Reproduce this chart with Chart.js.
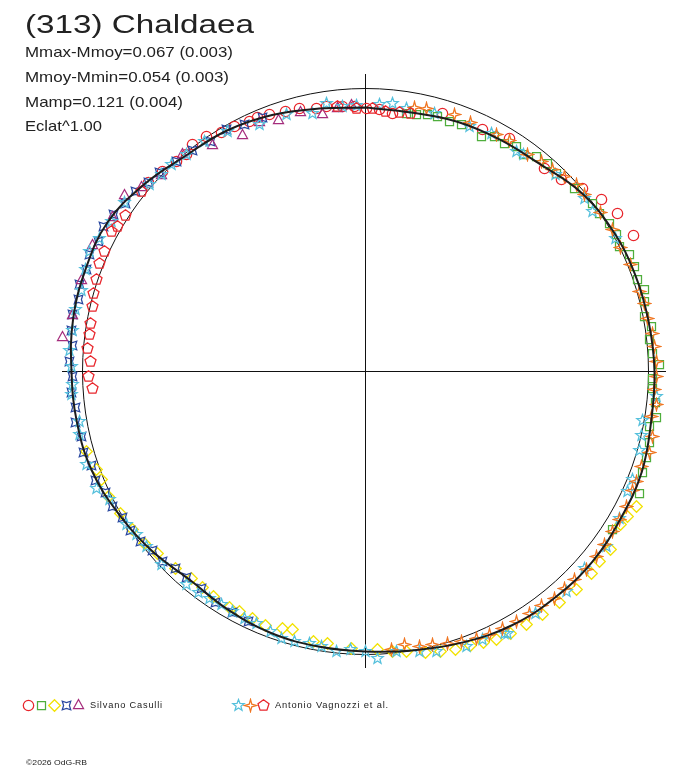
<!DOCTYPE html>
<html><head><meta charset="utf-8">
<script src="https://cdn.jsdelivr.net/npm/chart.js@4.4.1/dist/chart.umd.min.js"></script>
<style>
html,body{margin:0;padding:0;background:#fff;}
#wrap{position:relative;width:688px;height:768px;overflow:hidden;background:#fff;font-family:"Liberation Sans",Arial,sans-serif;color:#222;}
#c{position:absolute;left:0;top:0;}
.t{position:absolute;white-space:nowrap;transform-origin:0 0;line-height:1;}
.sym{position:absolute;}
</style></head><body>
<div id="wrap">
<canvas id="c" width="688" height="768"></canvas>
<div class="t" style="left:25px;top:11px;font-size:26px" data-w="229">(313) Chaldaea</div>
<div class="t" style="left:25px;top:44px;font-size:15px" data-w="208">Mmax-Mmoy=0.067 (0.003)</div>
<div class="t" style="left:25px;top:69px;font-size:15px" data-w="204">Mmoy-Mmin=0.054 (0.003)</div>
<div class="t" style="left:25px;top:94px;font-size:15px" data-w="158">Mamp=0.121 (0.004)</div>
<div class="t" style="left:25px;top:118px;font-size:15px" data-w="77">Eclat^1.00</div>
<div class="t" style="left:90px;top:701px;font-size:9px;letter-spacing:0.8px" data-w="73">Silvano Casulli</div>
<div class="t" style="left:275px;top:701px;font-size:9px;letter-spacing:0.8px" data-w="114">Antonio Vagnozzi et al.</div>
<div class="t" style="left:26px;top:759px;font-size:8px" data-w="61">©2026 OdG-RB</div>
</div>
<script>
// ---- data (angle in degrees clockwise from top, radius in plot units) ----
const REF_RADIUS = 283;
const fitAngle = [0,10,20,30,40,50,60,70,80,90,100,110,120,130,140,150,160,170,180,190,200,210,220,230,240,250,260,270,280,290,300,310,320,330,340,350];
const fitRadius = [264,263,266,268,271,280,284.5,286.5,287.5,289,290,294,294.5,296,295,293,288,283,280,279,278,275,272.5,279,285,291,293,294,297,298,298,290,281,278,273,267];

const casCircleAngle = [311,314.6,318,320.5,322.7,326,329,332,335,337,339.5,343,346,349.5,351.6,355,357.6,0.2,3,6,16.6,25.8,31.7,41.4,45.6,49.9,53.9,57.9,63];
const casCircleRadius = [288,285,283,281,285,283.7,279,278,275.6,276,274,272,271,267.5,268,266,265,263,262,259,269,269,274,270.6,274,284,292,297,300.5];

const casSquareAngle = [9,11.2,13.6,15.8,18.6,21.2,26.3,28.8,31.4,33.9,36,38.5,41.2,44,48.8,53.5,56,58.8,61.4,63.8,66,68.7,71.3,73.6,76,78.8,81,83.6,86.4,88.6,91.4,93.4,96,99,101,104,107,110,114,122.6];
const casSquareRadius = [261,262,264,265,264,265,262,268,267,271,268,274.7,276,275,278,282,282,285,286,283,288.8,288.8,287,290.8,287.6,284,289.5,285.8,287.6,294,287,287.5,292,294.5,289,293,294,295,300,293];

const casDiamondAngle = [116.5,119,121,126,129,131.8,135.9,140,144,147.5,151,154,156.5,159,162,165,168,171.7,174.5,177.5,183,188,191,195.8,198,201.5,204.6,207.7,210,214,217,220,224,228.8,232,235.9,240,244,247.8,250,254];
const casDiamondRadius = [303,300,297,303,301.5,303,303,302,300.6,300,299,298,296,294,292.5,290,287,283,281,278,277,274.6,275,268,270,273,271.6,271,272,272,271,270,274,276,280,281.5,283,286,285,286,290];

const casStar4Angle = [205,209,213,217,221,224,227,230,233,236,239,242,245,248,251,254,257,260,263,266,269,272,275,278,281,284,287,290,293,296,299,302,305,308,311,314,318,322,326,330,334,338];
const casStar4Radius = [276,275,275,272,273,274,278,278,282,284,283,287,287,291,290,293,291,294,292,295,293,296,294,297,298,296,299,297,300,297,299,297,293,292,288,287,282,281,278,279,275,274];

const casTriangleAngle = [276.6,281,288,295,301.5,306.3,309.6,314,320,326,332.6,337,341,346,350.5,354,357];
const casTriangleRadius = [305,298.7,299,301.5,297,299,290.5,283,285,274,267,272,267,268,261.6,265,267];

const vagStarAngle = [3,5.7,8.9,15,23,27.9,34.5,36,44,51.7,54.8,62,95,100,103,106,112,114.6,120,126,132,137.6,145,151.5,152,156.4,159.8,165.8,169,173.7,177.6,180,183,186,189,191.6,194.7,197.5,200,203.4,206,209,211.7,214.5,217,220,226.6,231.4,234.6,237.4,243.4,246.5,251.5,257.6,260,265.5,267.5,271,274,278,282,286,290,293.5,296.6,300.6,305,310.9,314,316.9,320.5,325,330,336.8,342.9,348.4,351.7,355,358];
const vagStarRadius = [267,269,266,267,266,269,267,268,274,279,278,283,292,281.5,283,285,288,288,293,298,295,298,296,298,296.6,292.4,293,289,285,281.7,287,280,278.5,281.5,278.5,277.7,279,280,277,274.6,275,274.4,274,275,277,278,281,280,281,283.8,286,293,294,293,290,295,293,294,296.7,296,296,295,298,301,297,295,294,285.7,283.6,283.7,281,281,277,268.8,269,263,271,266,266];

const vagCrossAngle = [10.5,13,19,23,29,32,36.7,40,42.8,45.6,48.5,51,56,60,64,68,73.7,76.3,79.4,82.5,85,88,91,93.6,96.5,99,102.8,106,109,112,114,117.3,120.2,122.9,125.9,128.7,131.9,134.9,137.5,140.2,143,145.9,148.9,151.9,154.8,157.4,160.4,163.2,166.2,168.9,171.9,174.6];
const vagCrossRadius = [269,270,272,270,271,272,271,274,275,278.6,282,281.6,284,285,284,286,285.4,287,287,289.5,290,291,291,289.6,293,290,294,295.6,292,292.5,292,294,294,294,295,296,296.7,295,294.4,295,293,292,292,291,291,289,286.6,284,281,280,275.8,279];

const vagPentagonAngle = [266.4,269,272,274.7,277.6,280,283.4,286,288.9,292,294.7,298.9,300.3,303,308.8,354,358,1.5,4.5,7.5,10];
const vagPentagonRadius = [273.5,277,275,279,278.5,279,281,283,284,287,287,290,287,286,287,266,263,263,261,261,262];

const observers = ['Silvano Casulli', 'Antonio Vagnozzi et al.'];

// ---- marker images ----
const COL = {red:'#e8262c', green:'#4fae3c', yellow:'#f2e200', blue:'#2a48a0', purple:'#a52c7c', cyan:'#55c0dc', orange:'#f07622'};
function starPath(ctx, c, n, outer, inner, rot){
  ctx.beginPath();
  for(let i=0;i<2*n;i++){
    const r = i%2===0?outer:inner;
    const a = rot + i*Math.PI/n;
    const px = c + r*Math.sin(a), py = c - r*Math.cos(a);
    if(i===0) ctx.moveTo(px,py); else ctx.lineTo(px,py);
  }
  ctx.closePath();
}
function makeMarker(shape, color){
  const S = 15, c = 7.5;
  const cv = document.createElement('canvas'); cv.width=S; cv.height=S;
  const ctx = cv.getContext('2d');
  ctx.strokeStyle = color; ctx.lineWidth = 1.25;
  ctx.beginPath();
  if(shape==='circle'){ ctx.arc(c,c,5.2,0,Math.PI*2); }
  else if(shape==='square'){ ctx.rect(3.5,3.5,8,8); }
  else if(shape==='diamond'){ ctx.moveTo(c,c-5.8); ctx.lineTo(c+5.8,c); ctx.lineTo(c,c+5.8); ctx.lineTo(c-5.8,c); ctx.closePath(); }
  else if(shape==='triangle'){ ctx.moveTo(c,2.5); ctx.lineTo(12.5,11.5); ctx.lineTo(2.5,11.5); ctx.closePath(); }
  else if(shape==='star5'){ starPath(ctx,c,5,6,2.5,0); }
  else if(shape==='cross4'){ starPath(ctx,c,4,6,1.8,0); }
  else if(shape==='diag4'){ starPath(ctx,c,4,6,2.9,Math.PI/4); }
  else if(shape==='pentagon'){ starPath(ctx,c,5,5.8,5.8*Math.cos(Math.PI/5),0); }
  ctx.stroke();
  return cv;
}

function toXY(angles, radii){
  return angles.map((a,i)=>({x: radii[i]*Math.sin(a*Math.PI/180), y: radii[i]*Math.cos(a*Math.PI/180)}));
}

const series = [
  {label:'circle', shape:'circle', color:COL.red, a:casCircleAngle, r:casCircleRadius, order:8},
  {label:'square', shape:'square', color:COL.green, a:casSquareAngle, r:casSquareRadius, order:7},
  {label:'diamond', shape:'diamond', color:COL.yellow, a:casDiamondAngle, r:casDiamondRadius, order:6},
  {label:'star4', shape:'diag4', color:COL.blue, a:casStar4Angle, r:casStar4Radius, order:5},
  {label:'triangle', shape:'triangle', color:COL.purple, a:casTriangleAngle, r:casTriangleRadius, order:4},
  {label:'star5', shape:'star5', color:COL.cyan, a:vagStarAngle, r:vagStarRadius, order:3},
  {label:'cross4', shape:'cross4', color:COL.orange, a:vagCrossAngle, r:vagCrossRadius, order:2},
  {label:'pentagon', shape:'pentagon', color:COL.red, a:vagPentagonAngle, r:vagPentagonRadius, order:1}
];

const datasets = series.map(s=>({
  label:s.label, data:toXY(s.a,s.r), pointStyle:makeMarker(s.shape,s.color),
  pointRadius:6, showLine:false, order:s.order
}));
datasets.push({
  label:'fit', data:toXY(fitAngle.concat([360]), fitRadius.concat([fitRadius[0]])),
  showLine:true, pointRadius:0, borderColor:'#1c1c1c', borderWidth:2, tension:0.4, order:0
});
datasets.push({label:'hAxis', data:[{x:-303.5,y:0},{x:300.5,y:0}], showLine:true, pointRadius:0, borderColor:'#111', borderWidth:1, order:20});
datasets.push({label:'vAxis', data:[{x:0,y:297.5},{x:0,y:-296.5}], showLine:true, pointRadius:0, borderColor:'#111', borderWidth:1, order:20});

const refCircle = {
  id:'refCircle',
  beforeDatasetsDraw(chart){
    const {ctx, scales:{x,y}} = chart;
    const cx = x.getPixelForValue(0), cy = y.getPixelForValue(0);
    const r = x.getPixelForValue(REF_RADIUS) - cx;
    ctx.save(); ctx.beginPath(); ctx.arc(cx,cy,r,0,Math.PI*2);
    ctx.lineWidth=1; ctx.strokeStyle='#111'; ctx.stroke(); ctx.restore();
    ctx.imageSmoothingEnabled = false;
  }
};

new Chart(document.getElementById('c'), {
  type:'scatter',
  data:{datasets},
  options:{
    responsive:false, animation:false, events:[],
    layout:{padding:0, autoPadding:false},
    plugins:{legend:{display:false}, title:{display:false}, tooltip:{enabled:false}},
    scales:{
      x:{type:'linear', display:false, min:-365.5, max:322.5},
      y:{type:'linear', display:false, min:-396.5, max:371.5}
    }
  },
  plugins:[refCircle]
});

// legend symbols
const wrap = document.getElementById('wrap');
const legendSyms = [
  ['circle',COL.red,28,705],['square',COL.green,41,705],['diamond',COL.yellow,54,705],['diag4',COL.blue,66,705],['triangle',COL.purple,78,704],
  ['star5',COL.cyan,238,705],['cross4',COL.orange,250,705],['pentagon',COL.red,263,705]
];
legendSyms.forEach(([sh,col,cx,cy])=>{
  const cv = makeMarker(sh,col); cv.className='sym';
  cv.style.left=Math.round(cx-7.5)+'px'; cv.style.top=Math.round(cy-7.5)+'px';
  wrap.appendChild(cv);
});

// fit text widths
document.querySelectorAll('.t[data-w]').forEach(el=>{
  const w = el.getBoundingClientRect().width;
  const target = parseFloat(el.dataset.w);
  if(w>0) el.style.transform = 'scaleX('+(target/w)+')';
});
</script>
</body></html>
